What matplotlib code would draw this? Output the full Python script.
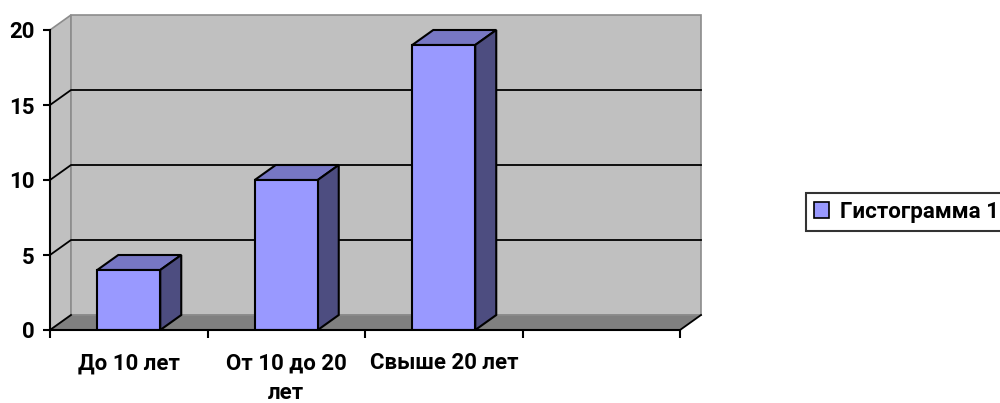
import matplotlib.pyplot as plt
from matplotlib.patches import Polygon, Rectangle, Patch

categories = ['До 10 лет', 'От 10 до 20\nлет', 'Свыше 20 лет', '']
values = [4, 10, 19]
series_name = 'Гистограмма 1'
yticks = [0, 5, 10, 15, 20]

plt.rcParams['font.family'] = ['Roboto', 'DejaVu Sans']
plt.rcParams['font.weight'] = 'bold'

fig = plt.figure(figsize=(10, 4.03), dpi=100)
ax = fig.add_axes([0.05, 73 / 403, 0.63, 300 / 403])
nslots = len(categories)
ax.set_xlim(0, nslots)
ax.set_ylim(0, 20)

# 3d depth in data units (~21 px right, 15 px up)
dx = 21 / (630 / nslots)
dy = 15 / (300 / 20)

wall = '#C0C0C0'
floor = '#808080'
edge_grey = '#8C8C8C'

# walls and floor
ax.add_patch(Polygon([(0, 0), (dx, dy), (dx, 20 + dy), (0, 20)], closed=True,
                     fc=wall, ec=edge_grey, lw=1.2, clip_on=False, zorder=1))
ax.add_patch(Rectangle((dx, dy), nslots, 20, fc=wall, ec=edge_grey, lw=1.2,
                       clip_on=False, zorder=1))
ax.add_patch(Polygon([(0, 0), (nslots, 0), (nslots + dx, dy), (dx, dy)], closed=True,
                     fc=floor, ec='none', clip_on=False, zorder=1))
ax.plot([dx, nslots + dx], [dy, dy], color=edge_grey, lw=1.2, clip_on=False, zorder=1)

# gridlines on the back wall
for v in yticks[1:-1]:
    ax.plot([0, dx, nslots + dx], [v, v + dy, v + dy], color='black', lw=1.3,
            clip_on=False, zorder=2)
ax.plot([0, dx], [0, dy], color='black', lw=1.3, clip_on=False, zorder=2)
ax.plot([nslots, nslots + dx], [0, dy], color='black', lw=1.3, clip_on=False, zorder=2)

# bars
w = 0.4
xs = [i + 0.5 for i in range(len(values))]
ax.bar(xs, values, width=w, color='#9999FF', edgecolor='black', linewidth=1.5, zorder=4)
for x, v in zip(xs, values):
    l, r = x - w / 2, x + w / 2
    ax.add_patch(Polygon([(l, v), (r, v), (r + dx, v + dy), (l + dx, v + dy)], closed=True,
                         fc='#7777C4', ec='black', lw=1.5, zorder=3, clip_on=False))
    ax.add_patch(Polygon([(r, 0), (r + dx, dy), (r + dx, v + dy), (r, v)], closed=True,
                         fc='#4D4D80', ec='black', lw=1.5, zorder=3, clip_on=False))

# axes styling
for s in ['top', 'right']:
    ax.spines[s].set_visible(False)
ax.spines['left'].set_linewidth(1.5)
ax.spines['bottom'].set_linewidth(1.5)
ax.spines['left'].set_zorder(5)
ax.spines['bottom'].set_zorder(5)
ax.patch.set_visible(False)

ax.set_yticks(yticks)
ax.set_yticklabels([str(t) for t in yticks], fontweight='bold')
ax.tick_params(axis='y', length=5, width=1.5, labelsize=16, pad=6)
ax.set_xticks(range(nslots + 1))
ax.set_xticklabels([])
ax.tick_params(axis='x', which='major', length=6, width=1.5)
ax.set_xticks([i + 0.5 for i in range(nslots)], minor=True)
ax.set_xticklabels(categories, minor=True, fontweight='bold', linespacing=1.45,
                   va='top')
ax.tick_params(axis='x', which='minor', length=0, labelsize=16, pad=16)

leg = fig.legend(handles=[Patch(fc='#9999FF', ec='black', lw=1.2, label=series_name)],
                 loc='center left', bbox_to_anchor=(0.806, 1 - 212 / 403),
                 frameon=True, fancybox=False, prop={'size': 16, 'weight': 'bold'},
                 handlelength=0.7, handleheight=0.7, handletextpad=0.5,
                 borderpad=0.35, borderaxespad=0)
leg.get_frame().set_edgecolor('black')
leg.get_frame().set_linewidth(1.5)

fig.savefig('out.png', dpi=100)
